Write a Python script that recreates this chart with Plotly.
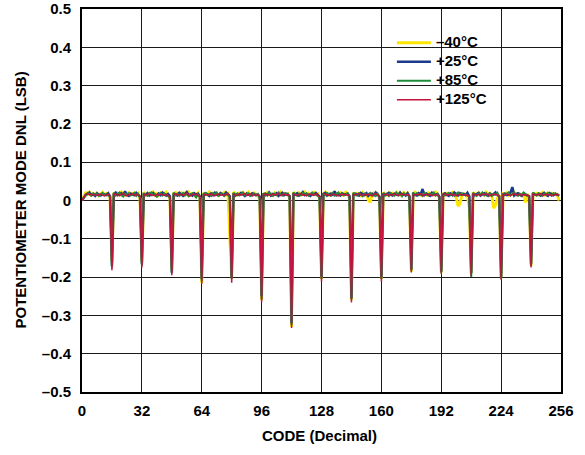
import plotly.graph_objects as go

# DNL values in units of 0.001 LSB, codes 0..255 (rows of 16 codes)
codes = list(range(256))

dnl_m40 = [
    2, 12, 20, 16, 22, 14, 18, 15, 19, 13, 17, 21, 15, 18, 14, 8,
    -160, 20, 16, 19, 14, 22, 17, 13, 18, 21, 15, 17, 20, 14, 18, 5,
    -160, 21, 17, 14, 19, 16, 22, 15, 18, 13, 20, 16, 18, 22, 15, 6,
    -180, 18, 21, 15, 17, 20, 14, 19, 16, 22, 15, 18, 13, 17, 20, 7,
    -215, 20, 15, 18, 22, 14, 17, 21, 16, 13, 19, 16, 21, 15, 18, -110,
    -200, 22, 17, 14, 19, 16, 21, 15, 18, 22, 14, 17, 20, 16, 13, 4,
    -260, 19, 16, 21, 15, 18, 13, 20, 17, 14, 22, 16, 19, 15, 18, 6,
    -330, 21, 18, 15, 20, 14, 17, 22, 16, 19, 13, 18, 21, 15, 17, 7,
    -205, 18, 22, 16, 14, 19, 17, 21, 15, 18, 20, 14, 17, 22, 16, 5,
    -260, 20, 15, 19, 17, 13, 21, 16, 18, 2, -5, 14, 20, 17, 15, 6,
    -205, 21, 17, 14, 20, 16, 19, 15, 22, 18, 14, 17, 21, 16, 19, 7,
    -185, 18, 22, 16, 19, 15, 21, 17, 14, 20, 16, 19, 15, 22, 17, 6,
    -188, 20, 16, 19, 15, 18, 21, 17, 8, -15, -8, 14, 18, 16, 12, -18,
    -190, 21, 17, 15, 20, 16, 18, 14, 22, 17, 19, 15, -20, -12, 6, 14,
    -200, 18, 16, 20, 14, 19, 17, 21, 15, 18, 16, 13, 20, -5, 17, 6,
    -170, 20, 16, 19, 15, 18, 21, 14, 17, 20, 16, 19, 15, 18, 14, 0,
]

dnl_p25 = [
    0, 9, 15, 17, 21, 14, 16, 12, 19, 15, 13, 18, 16, 14, 19, 11,
    -170, 17, 21, 14, 16, 19, 13, 24, 15, 12, 18, 16, 14, 20, 15, 10,
    -165, 16, 14, 19, 13, 17, 20, 15, 12, 18, 14, 21, 16, 13, 17, 11,
    -188, 18, 15, 13, 20, 16, 12, 17, 22, 14, 16, 13, 19, 15, 18, 10,
    -205, 15, 19, 16, 12, 18, 14, 20, 15, 13, 19, 16, 14, 21, 15, 11,
    -200, 19, 13, 17, 15, 20, 16, 12, 18, 15, 13, 19, 17, 14, 16, 10,
    -250, 16, 18, 14, 21, 13, 17, 15, 19, 12, 16, 20, 14, 18, 15, 11,
    -320, 18, 15, 19, 13, 16, 22, 14, 17, 15, 12, 18, 16, 20, 14, 10,
    -200, 17, 20, 13, 16, 18, 15, 24, 14, 17, 13, 19, 15, 16, 18, 11,
    -255, 15, 18, 16, 13, 20, 17, 14, 19, 12, 16, 18, 14, 21, 15, 10,
    -200, 19, 14, 17, 20, 15, 13, 18, 16, 14, 21, 15, 17, 13, 19, 11,
    -180, 17, 15, 13, 19, 16, 30, 14, 18, 15, 12, 20, 16, 14, 17, 10,
    -185, 16, 19, 15, 12, 18, 14, 21, 16, 13, 19, 15, 17, 14, 20, 11,
    -190, 18, 14, 17, 20, 13, 16, 19, 15, 12, 18, 14, 16, 21, 15, 10,
    -200, 15, 18, 14, 16, 21, 35, 13, 17, 19, 15, 12, 18, 16, 14, 11,
    -165, 19, 16, 14, 18, 13, 17, 20, 15, 12, 19, 16, 14, 18, 15, 13,
]

dnl_p85 = [
    0, 8, 14, 20, 17, 13, 19, 15, 18, 12, 16, 20, 14, 17, 13, 10,
    -175, 20, 13, 17, 21, 14, 11, 18, 15, 19, 13, 16, 20, 12, 17, 9,
    -170, 19, 15, 12, 18, 21, 14, 17, 10, 16, 19, 13, 18, 15, 12, 8,
    -190, 21, 14, 18, 12, 16, 20, 13, 17, 11, 15, 19, 14, 8, 16, 10,
    -210, 18, 20, 14, 17, 12, 19, 15, 21, 13, 16, 18, 12, 17, 14, 9,
    -205, 20, 15, 18, 13, 17, 21, 14, 16, 19, 12, 15, 18, 13, 17, 8,
    -258, 19, 13, 17, 20, 15, 12, 18, 14, 21, 16, 13, 19, 15, 18, 10,
    -325, 21, 16, 12, 18, 14, 20, 15, 19, 13, 17, 21, 14, 16, 12, 9,
    -205, 18, 14, 20, 16, 12, 19, 13, 17, 21, 15, 18, 13, 16, 19, 10,
    -258, 20, 17, 13, 19, 15, 11, 18, 14, 16, 20, 13, 17, 12, 18, 9,
    -205, 19, 14, 18, 12, 20, 16, 13, 21, 15, 17, 11, 19, 14, 16, 10,
    -182, 21, 15, 19, 14, 17, 12, 20, 16, 13, 18, 15, 21, 13, 17, 8,
    -188, 18, 13, 16, 20, 14, 18, 12, 17, 21, 15, 19, 14, 16, 13, 9,
    -200, 20, 16, 12, 18, 15, 21, 14, 19, 13, 17, 12, 18, 15, 20, 10,
    -205, 19, 14, 17, 21, 13, 16, 20, 15, 12, 18, 14, 21, 16, 13, 9,
    -170, 21, 17, 13, 19, 15, 12, 18, 14, 20, 16, 13, 19, 15, 17, 12,
]

dnl_p125 = [
    0, 10, 16, 18, 15, 17, 14, 16, 13, 15, 17, 14, 12, 15, 16, 11,
    -182, 18, 15, 17, 13, 16, 19, 14, 12, 16, 15, 18, 14, 16, 13, 12,
    -175, 17, 14, 16, 18, 13, 15, 12, 16, 14, 17, 15, 13, 16, 14, 10,
    -195, 16, 18, 14, 15, 17, 13, 16, 19, 14, 12, 16, 15, 17, 14, 11,
    -218, 17, 14, 16, 13, 18, 15, 12, 16, 17, 14, 15, 13, 16, 18, 12,
    -215, 16, 15, 13, 17, 14, 16, 18, 13, 15, 17, 12, 16, 14, 15, 10,
    -266, 18, 14, 16, 15, 13, 17, 14, 16, 19, 13, 15, 17, 14, 16, 12,
    -333, 17, 15, 13, 16, 18, 14, 15, 12, 16, 17, 14, 15, 18, 13, 11,
    -212, 16, 18, 14, 15, 13, 17, 16, 14, 12, 16, 15, 17, 14, 16, 12,
    -266, 17, 14, 16, 18, 15, 13, 16, 14, 17, 15, 12, 16, 18, 14, 11,
    -212, 16, 15, 17, 13, 16, 14, 18, 15, 13, 16, 17, 14, 15, 16, 12,
    -188, 17, 14, 16, 15, 18, 13, 15, 17, 14, 16, 12, 15, 17, 14, 11,
    -192, 16, 18, 13, 15, 17, 14, 16, 12, 15, 17, 14, 16, 13, 15, 10,
    -197, 17, 15, 14, 16, 13, 17, 15, 18, 14, 12, 16, 15, 17, 14, 12,
    -207, 16, 14, 17, 15, 13, 16, 18, 14, 15, 17, 13, 16, 14, 15, 11,
    -175, 17, 15, 14, 16, 18, 13, 15, 17, 14, 16, 12, 15, 17, 14, 16,
]

series_names = ["\u201340\u00b0C", "+25\u00b0C", "+85\u00b0C", "+125\u00b0C"]
series_values = [dnl_m40, dnl_p25, dnl_p85, dnl_p125]
series_colors = ["#FFE600", "#1B3A8C", "#1E8C3C", "#C4123F"]
series_widths = [3, 2.5, 2, 1.5]

x_ticks = [0, 32, 64, 96, 128, 160, 192, 224, 256]
y_ticks = [-0.5, -0.4, -0.3, -0.2, -0.1, 0, 0.1, 0.2, 0.3, 0.4, 0.5]
y_ticktext = ["\u20130.5", "\u20130.4", "\u20130.3", "\u20130.2", "\u20130.1", "0",
              "0.1", "0.2", "0.3", "0.4", "0.5"]

FONT = "Liberation Sans, Arial, sans-serif"

fig = go.Figure()
for name, vals, col, w in zip(series_names, series_values, series_colors, series_widths):
    fig.add_trace(go.Scatter(
        x=codes, y=[v / 1000 for v in vals], mode="lines",
        name="<span style='font-size:15px'>" + name + "</span>",
        line=dict(color=col, width=w),
    ))

fig.update_layout(
    width=585, height=455,
    margin=dict(l=82, r=24, t=9, b=63, autoexpand=False),
    paper_bgcolor="white", plot_bgcolor="white",
    font=dict(family=FONT, size=15, color="black"),
    showlegend=True,
    legend=dict(
        x=0.647, y=0.95, xanchor="left", yanchor="top",
        bgcolor="rgba(0,0,0,0)", borderwidth=0,
        font=dict(family=FONT, size=12, color="black", weight="bold"),
        tracegroupgap=0, itemwidth=34,
    ),
    shapes=[dict(type="rect", xref="paper", yref="paper",
                 x0=0.6326, x1=0.862, y0=0.7206, y1=0.966,
                 fillcolor="white", line=dict(width=0), layer="between")],
    annotations=[
        dict(text="<b>CODE (Decimal)</b>", xref="paper", yref="paper",
             x=0.495, y=-0.1123, xanchor="center", yanchor="middle",
             showarrow=False, font=dict(family=FONT, size=15, color="black")),
        dict(text="<b>POTENTIOMETER MODE DNL (LSB)</b>", xref="paper", yref="paper",
             x=-0.1294, y=0.5, xanchor="center", yanchor="middle", textangle=-90,
             showarrow=False, font=dict(family=FONT, size=15, color="black")),
    ],
)

fig.update_xaxes(
    range=[0, 256], tickvals=x_ticks, ticktext=[str(t) for t in x_ticks],
    showgrid=True, gridcolor="#1a1a1a", gridwidth=1.3, zeroline=False,
    showline=True, linecolor="black", linewidth=2, mirror=True,
    ticks="", ticklabelstandoff=4, automargin=False,
    tickfont=dict(family=FONT, size=15, color="black", weight="bold"),
)
fig.update_yaxes(
    range=[-0.5, 0.5], tickvals=y_ticks, ticktext=y_ticktext,
    showgrid=True, gridcolor="#1a1a1a", gridwidth=1.3, zeroline=False,
    showline=True, linecolor="black", linewidth=2, mirror=True,
    ticks="", ticklabelstandoff=6, automargin=False,
    tickfont=dict(family=FONT, size=15, color="black", weight="bold"),
)

fig.write_html("out.html", config={"displayModeBar": False},
               post_script="document.body.style.margin='0';document.body.style.overflow='hidden';")
